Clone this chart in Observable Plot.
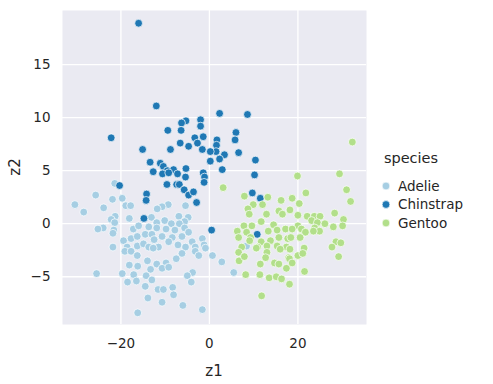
<!DOCTYPE html>
<html>
<head>
<meta charset="utf-8">
<script src="https://cdn.jsdelivr.net/npm/d3@7"></script>
<script src="https://cdn.jsdelivr.net/npm/@observablehq/plot@0.6"></script>
<style>
  html, body { margin: 0; padding: 0; background: white; }
  #chart { width: 493px; height: 384px; }
</style>
</head>
<body>
<div id="chart"></div>
<script>
const speciesNames = ["Adelie", "Chinstrap", "Gentoo"];
const palette = ["#a6cee3", "#1f78b4", "#b2df8a"];
const xTicks = [-20, 0, 20];
const yTicks = [-5, 0, 5, 10, 15];
const xLabel = "z1";
const yLabel = "z2";
const legendTitle = "species";

const adelie = [
  [-21.4,3.8],[-25.7,2.7],[-21.9,2.3],[-19.7,2.4],[-18.9,1.7],[-17.8,1.7],[-30.4,1.8],[-28.4,1.1],[-23.9,1.5],
  [-21.3,0.7],[-22.2,0.4],[-18.1,0.5],[-21.4,0.1],[-24.0,-0.4],[-25.2,-0.5],[-21.6,-0.6],[-21.8,-0.9],[-17.2,-0.5],
  [-16.0,-0.2],[-19.4,-1.6],[-17.7,-1.4],[-16.3,-1.2],[-21.8,-2.2],[-18.6,-2.2],[-16.3,-2.1],
  [-9.3,1.8],[-10.7,1.6],[-11.8,1.4],[-5.4,1.7],[-6.9,0.7],[-4.8,0.6],[-5.6,0.2],[-13.1,0.6],[-11.9,0.1],[-10.1,0.3],
  [-8.6,0.0],[-6.8,0.0],[-13.7,-0.3],[-11.9,-0.4],[-9.8,-0.5],[-7.8,-0.6],[-5.6,-0.4],[-14.5,-1.0],[-13.0,-1.0],
  [-10.7,-1.2],[-8.4,-1.3],[-6.2,-1.2],[-4.7,-0.8],[-14.9,-1.9],[-12.5,-1.5],[-9.2,-1.7],[-7.1,-2.0],[-3.9,-1.7],
  [-1.6,-1.4],[-1.2,-2.0],[-3.2,-2.2],[-5.4,-2.2],[-11.5,-2.2],[-13.7,-2.2],[8.4,-2.1],
  [-19.1,-2.6],[-17.7,-2.6],[-16.3,-3.0],[-18.1,-3.9],[-16.2,-4.0],[-25.5,-4.7],[-19.7,-4.7],[-17.1,-4.8],
  [-18.5,-5.5],[-16.5,-5.4],[-16.2,-8.4],
  [-12.7,-2.3],[-6.2,-2.8],[-3.2,-2.6],[-0.9,-2.3],[-7.5,-3.3],[-2.4,-3.0],[-14.0,-3.5],[-11.9,-3.8],[-9.8,-3.7],
  [-13.3,-4.3],[-10.7,-4.2],[-9.2,-4.1],[-3.8,-4.6],[-5.0,-4.9],[-4.1,-5.5],[-14.3,-4.9],[-13.0,-5.3],[-14.5,-5.9],
  [-11.6,-6.2],[-10.4,-6.2],[-8.3,-6.0],[-8.1,-6.7],[-13.9,-7.0],[-10.7,-7.4],[-6.0,-7.7],[-1.6,-8.1],
  [0.7,-3.0],[2.8,-3.6],[5.5,-4.6]
];

const chinstrap = [
  [-16.0,18.9],[-22.2,8.1],
  [-12.0,11.1],[-5.3,9.7],[-6.3,9.5],[-2.0,9.8],[-9.4,8.8],[-6.4,8.8],[-2.0,9.2],[-3.3,8.1],[-1.4,8.2],[-6.6,7.6],
  [-2.7,7.6],[-4.7,7.3],[-15.1,7.0],[-8.8,7.0],[-1.6,7.0],[-13.4,5.8],[-11.1,5.7],[-10.4,5.4],[-9.5,5.0],[-8.1,5.1],
  [-5.3,5.2],[-12.7,4.9],[-1.4,4.8],
  [2.3,10.4],[8.6,10.3],[6.0,8.6],[5.8,7.9],[1.7,7.9],[1.6,7.4],[1.5,6.8],[0.2,6.8],[3.4,6.5],[2.3,6.1],[6.6,6.7],
  [10.4,6.0],[0.2,5.9],[2.9,5.1],[10.2,4.6],
  [-20.3,3.6],
  [-10.6,4.7],[-9.2,4.8],[-7.2,4.7],[-5.4,4.4],[-1.1,4.4],[-1.2,3.9],[-9.6,3.7],[-7.4,3.7],[-6.8,3.7],[-5.7,3.2],
  [-4.7,2.7],[-3.6,3.0],[-14.2,2.8],[-14.3,2.2],[-2.9,2.0],[-14.8,0.5],[0.5,-0.6],
  [9.7,2.9],[11.5,2.4],[10.8,-1.0]
];

const gentoo = [
  [32.3,7.7],[29.4,4.7],[19.9,4.5],
  [3.1,3.4],[7.9,2.6],[13.2,2.5],[16.2,2.2],[9.9,1.8],[12.0,1.8],[8.7,1.4],[9.0,0.9],[15.7,1.2],[16.5,0.9],[12.9,0.9],
  [11.7,0.2],[9.6,-0.2],[7.8,-0.2],[6.3,-0.7],[8.4,-0.8],[14.5,-0.1],[13.3,-0.7],[15.3,-0.6],[17.2,-0.5],[6.6,-1.3],
  [9.3,-1.3],[9.1,-1.6],[11.7,-1.7],[13.8,-1.6],[15.7,-1.3],[17.7,-1.4],[10.9,-2.2],[13.0,-2.1],[15.3,-2.1],[17.4,-2.2],[7.3,-2.2],
  [21.8,2.9],[31.0,3.2],[31.9,2.1],[18.7,2.4],[20.3,1.9],[18.2,1.3],[28.3,1.0],[20.0,0.8],[22.1,0.7],[23.7,0.7],
  [25.0,0.7],[30.3,0.4],[23.1,0.3],[24.4,0.1],[26.1,0.0],[20.0,-0.2],[28.0,-0.3],[30.1,-0.2],[18.7,-0.5],[20.8,-0.5],
  [23.8,-0.4],[24.9,-0.7],[21.7,-0.8],[23.5,-0.7],[20.5,-1.3],[18.4,-1.3],[28.6,-1.7],[29.7,-1.8],[27.7,-2.2],[21.4,-2.3],
  [6.6,-2.7],[6.7,-3.5],[7.9,-3.1],[10.6,-2.3],[13.0,-2.7],[16.0,-2.4],[12.7,-3.2],[11.5,-3.8],[14.7,-3.7],[15.7,-3.8],
  [17.4,-4.2],[17.9,-3.2],[8.2,-4.8],[11.4,-4.8],[13.5,-5.1],[15.1,-5.0],[16.3,-5.2],[18.1,-5.7],[11.8,-6.8],
  [18.2,-2.4],[29.2,-3.1],[18.1,-3.3],[20.0,-3.0],[21.1,-2.8],[18.7,-3.7],[21.5,-4.5]
];

const groups = [adelie, chinstrap, gentoo];
const rows = groups.flatMap((g, i) => g.map(([z1, z2]) => ({species: speciesNames[i], z1, z2})));

const W = 493, H = 384;
const mL = 62, mR = 127, mT = 10, mB = 60;
const font = "DejaVu Sans, sans-serif";
const ink = "#262626";

const chart = Plot.plot({
  width: W, height: H,
  marginLeft: mL, marginRight: mR, marginTop: mT, marginBottom: mB,
  style: {fontFamily: font, fontSize: "13.5px", color: ink, background: "white", overflow: "visible"},
  x: {domain: [-33.2, 35.5], label: null},
  y: {domain: [-9.5, 20.1], label: null},
  color: {domain: speciesNames, range: palette},
  marks: [
    Plot.frame({fill: "#eaeaf2", stroke: null}),
    Plot.gridX(xTicks, {stroke: "white", strokeOpacity: 1, strokeWidth: 1.3}),
    Plot.gridY(yTicks, {stroke: "white", strokeOpacity: 1, strokeWidth: 1.3}),
    Plot.axisX(xTicks, {tickSize: 0, tickPadding: 14, label: null, fontSize: 13.5, fill: ink}),
    Plot.axisY(yTicks, {tickSize: 0, tickPadding: 12, label: null, fontSize: 13.5, fill: ink}),
    Plot.dot(rows, {x: "z1", y: "z2", fill: "species", r: 3.9, stroke: "white", strokeWidth: 0.7})
  ]
});

const svg = d3.select(chart);
const cx = (mL + W - mR) / 2;
const cy = (mT + H - mB) / 2;
svg.append("text").attr("x", cx).attr("y", 376).attr("text-anchor", "middle")
  .attr("font-family", font).attr("font-size", 15).attr("fill", ink).text(xLabel);
svg.append("text").attr("transform", `translate(20,${cy}) rotate(-90)`).attr("text-anchor", "middle")
  .attr("font-family", font).attr("font-size", 15).attr("fill", ink).text(yLabel);

const lg = svg.append("g");
lg.append("text").attr("x", 411).attr("y", 163).attr("text-anchor", "middle")
  .attr("font-family", font).attr("font-size", 14.5).attr("fill", ink).text(legendTitle);
speciesNames.forEach((s, i) => {
  const y = 186 + i * 18.5;
  lg.append("circle").attr("cx", 386).attr("cy", y).attr("r", 3.9)
    .attr("fill", palette[i]).attr("stroke", "white").attr("stroke-width", 0.7);
  lg.append("text").attr("x", 398).attr("y", y).attr("dy", "0.36em").attr("text-anchor", "start")
    .attr("font-family", font).attr("font-size", 13.5).attr("fill", ink).text(s);
});

document.getElementById("chart").appendChild(chart);
</script>
</body>
</html>
